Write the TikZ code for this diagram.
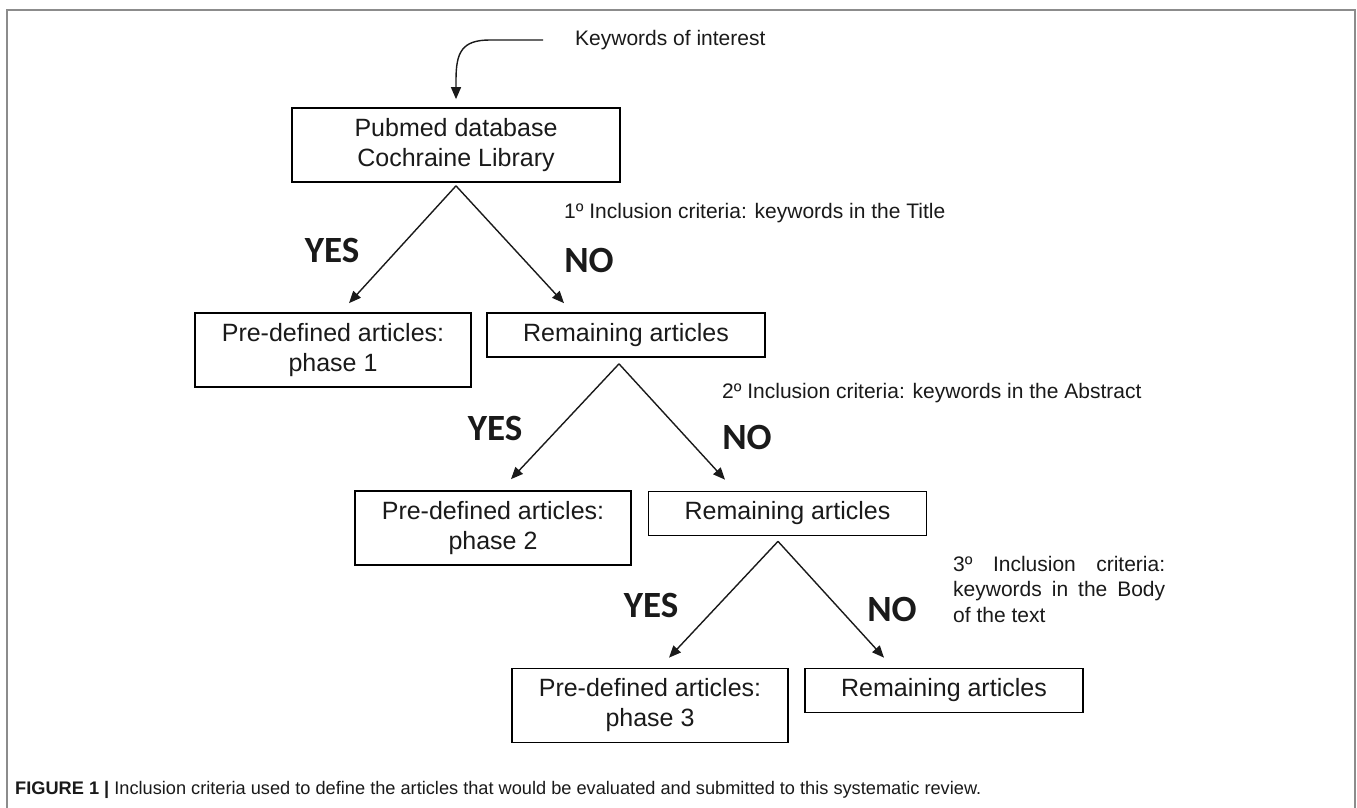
\documentclass[tikz,border=0pt]{standalone}
\usepackage{fontspec}
\setmainfont{Liberation Sans}
\newfontfamily\calib{Carlito}
\usetikzlibrary{arrows.meta,calc}
\definecolor{framecol}{HTML}{8C8C8C}
\definecolor{ink}{HTML}{1A1A1A}
\begin{document}
\begin{tikzpicture}[x=1pt,y=-1pt,
  box/.style={draw=black, line width=1.7pt, inner sep=0pt, align=center, text=ink,
    font=\fontsize{25pt}{30pt}\selectfont},
  phasebox/.style={box, minimum width=276pt, minimum height=74pt},
  rembox/.style={box, minimum width=278pt, minimum height=44pt},
  yn/.style={inner sep=0pt, text=ink, font=\calib\bfseries\fontsize{37pt}{37pt}\selectfont},
  inc/.style={inner sep=0pt, text=ink, font=\fontsize{21pt}{25.5pt}\selectfont},
  arr/.style={draw=ink, line width=1.4pt, -{Triangle[length=12pt,width=10pt]}}
]
\useasboundingbox (0,0) rectangle (1357,808);
\fill[white] (0,0) rectangle (1357,808);
% frame
\draw[framecol, line width=2pt] (7,810) -- (7,10) -- (1355,10) -- (1355,810);

% top
\node[inc, anchor=west] (kw) at (575,40) {Keywords of interest};
\coordinate (ks) at (543,40);
\node[box, minimum width=328pt, minimum height=74pt] (A) at (456,145) {Pubmed database\\Cochraine Library};
\draw[arr] (ks) -- (490,40) .. controls (462,40) and (456,52) .. (456,80) -- ([yshift=8pt]A.north);

% level 1
\node[phasebox] (p1) at (333,350) {Pre-defined articles:\\phase 1};
\node[rembox] (r1) at (626,335) {Remaining articles};
\draw[arr] ([yshift=-3pt]A.south) -- ([xshift=16pt,yshift=9pt]p1.north);
\draw[arr] ([yshift=-3pt]A.south) -- ([xshift=-62pt,yshift=9pt]r1.north);
\node[yn] (y1) at (332,250) {YES};
\node[yn] (n1) at (589,260) {NO};
\node[inc, anchor=west] (c1) at (564,213) {1º Inclusion criteria: keywords in the Title};

% level 2
\node[phasebox] (p2) at (493,528) {Pre-defined articles:\\phase 2};
\node[rembox] (r2) at (787.5,513.5) {Remaining articles};
\draw[arr] ([xshift=-7pt,yshift=-6pt]r1.south) -- ([xshift=18pt,yshift=11pt]p2.north);
\draw[arr] ([xshift=-7pt,yshift=-6pt]r1.south) -- ([xshift=-62.5pt,yshift=11pt]r2.north);
\node[yn] (y2) at (495,428) {YES};
\node[yn] (n2) at (747,437) {NO};
\node[inc, anchor=west] (c2) at (722,393) {2º Inclusion criteria: keywords in the Abstract};

% level 3
\node[phasebox] (p3) at (650,705.5) {Pre-defined articles:\\phase 3};
\node[rembox] (r3) at (944,690.5) {Remaining articles};
\draw[arr] ([xshift=-9.5pt,yshift=-5pt]r2.south) -- ([xshift=19pt,yshift=10pt]p3.north);
\draw[arr] ([xshift=-9.5pt,yshift=-5pt]r2.south) -- ([xshift=-60pt,yshift=10pt]r3.north);
\node[yn] (y3) at (651,605) {YES};
\node[yn] (n3) at (892,609) {NO};
\node[inc, anchor=north west, text width=212pt, align=justify] (c3) at (953,556)
  {3º Inclusion criteria:\linebreak keywords in the Body\linebreak of the text};

% caption
\node[anchor=west, inner sep=0pt, text=ink, font=\fontsize{18.2pt}{22pt}\selectfont] (cap) at (15,790)
  {\textbf{FIGURE 1 |} Inclusion criteria used to define the articles that would be evaluated and submitted to this systematic review.};
\end{tikzpicture}
\end{document}
